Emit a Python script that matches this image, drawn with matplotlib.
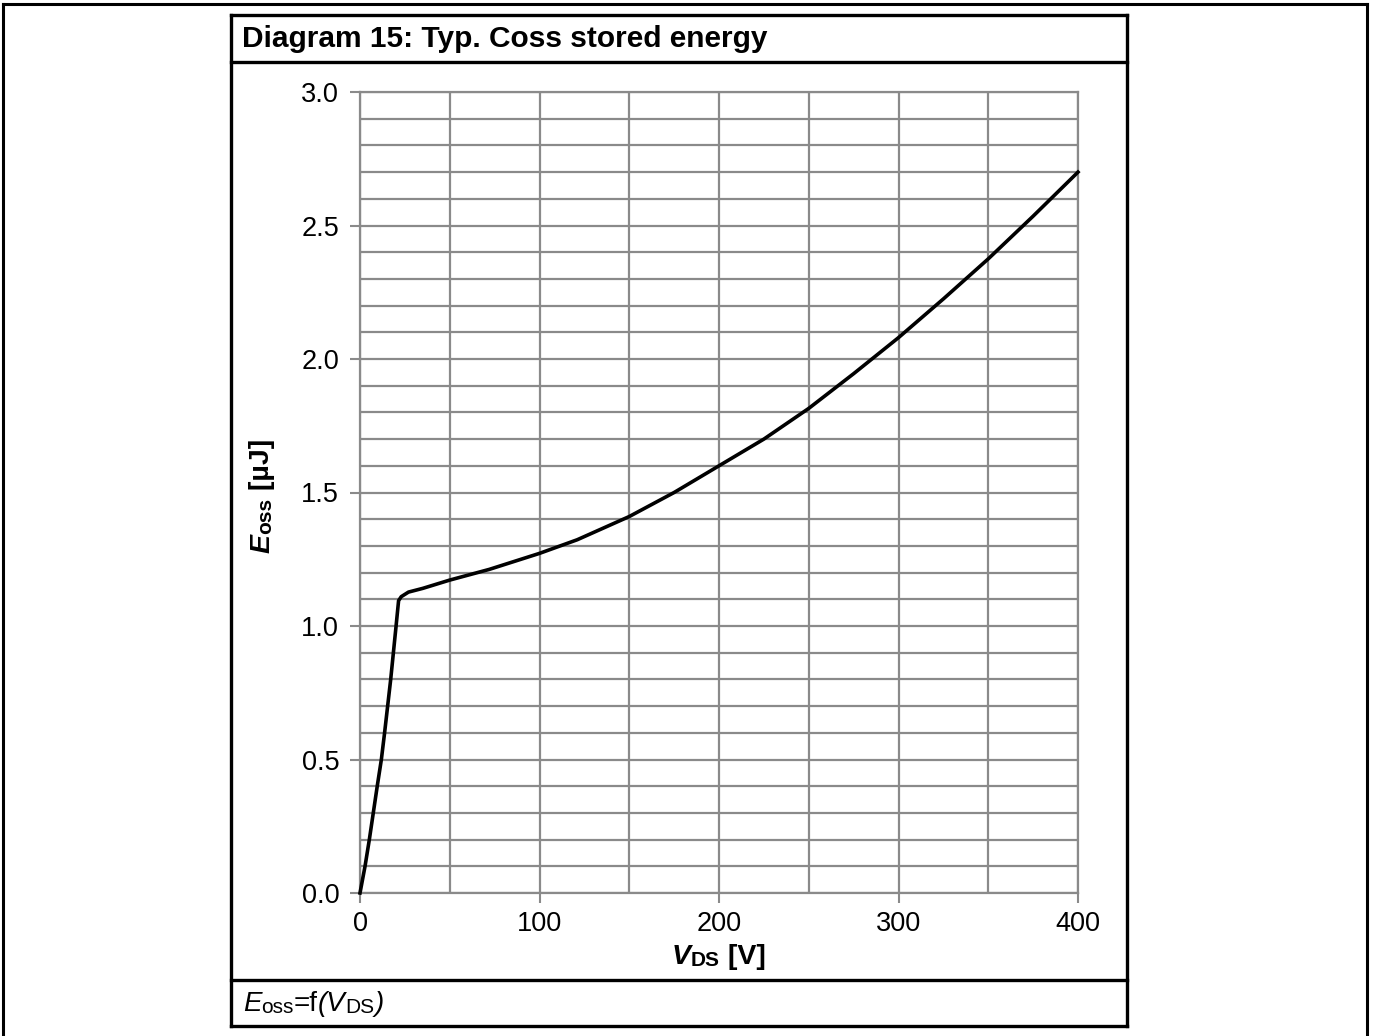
import matplotlib.pyplot as plt
import numpy as np

### Eoss curve ###
vds = [0, 2.8, 5.2, 7.4, 9.6, 11.9, 13.7, 15.4, 17.1, 18.6, 20.1, 21.5,
       23, 27, 35, 50, 72, 100, 121, 150, 175, 200, 225, 250, 275, 300,
       325, 350, 375, 400]
eoss = [0, 0.1, 0.2, 0.3, 0.4, 0.5, 0.6, 0.7, 0.8, 0.9, 1.0, 1.095,
        1.11, 1.127, 1.141, 1.172, 1.212, 1.272, 1.323, 1.41, 1.50, 1.60,
        1.70, 1.815, 1.945, 2.08, 2.225, 2.375, 2.535, 2.70]

x_ticks = [0, 100, 200, 300, 400]
y_ticks = [0.0, 0.5, 1.0, 1.5, 2.0, 2.5, 3.0]
title_text = "Diagram 15: Typ. Coss stored energy"

W, H = 1373, 1036
FONT = "Liberation Sans"
GRID = "#8a8a8a"
BIG = 20.5   # label size
SUB = 15     # subscript size

fig = plt.figure(figsize=(W / 100, H / 100), dpi=100)
plt.rcParams['font.family'] = [FONT, 'DejaVu Sans']

# helpers: pixel -> figure fraction
def fx(px):
    return px / W

def fy(py):
    return 1 - py / H

### frames around everything ###
def hline(y, x0, x1, lw=2.4):
    fig.add_artist(plt.Line2D([fx(x0), fx(x1)], [fy(y), fy(y)], color='black', lw=lw))

def vline(x, y0, y1, lw=2.4):
    fig.add_artist(plt.Line2D([fx(x), fx(x)], [fy(y0), fy(y1)], color='black', lw=lw))

# outer page border
hline(4, 3, 1367, lw=2.2)
vline(3, 4, 1036, lw=2.2)
vline(1367, 4, 1036, lw=2.2)
# diagram box
hline(15, 231, 1127)
hline(62, 231, 1127)
hline(980, 231, 1127)
hline(1026, 231, 1127)
vline(231, 15, 1026)
vline(1127, 15, 1026)

### plot area ###
ax = fig.add_axes([fx(360), fy(893), fx(1078) - fx(360), fy(92) - fy(893)])
ax.plot(vds, eoss, color='black', lw=2.6, clip_on=False, zorder=5,
        solid_joinstyle='round')
ax.set_xlim(0, 400)
ax.set_ylim(0, 3.0)
ax.set_xticks(x_ticks)
ax.set_yticks(y_ticks)
ax.set_xticks(np.arange(0, 401, 50), minor=True)
ax.set_yticks(np.arange(0, 3.01, 0.1), minor=True)
ax.set_xticklabels([str(v) for v in x_ticks])
ax.set_yticklabels(["%.1f" % v for v in y_ticks])
ax.grid(which='both', color=GRID, lw=1.6)
ax.set_axisbelow(True)
ax.tick_params(which='major', length=7, width=1.5, color=GRID,
               labelsize=19.5, pad=6)
ax.tick_params(axis='y', which='major', pad=8)
ax.tick_params(which='minor', length=0)
for sp in ax.spines.values():
    sp.set_color(GRID)
    sp.set_linewidth(1.6)

### texts ###
fig.text(fx(242), fy(39), title_text, fontsize=21.5, fontweight='bold',
         ha='left', va='center')

# x label: V_DS [V]
t1 = fig.text(fx(672), fy(970), "V", fontsize=BIG, fontweight='bold',
              fontstyle='italic', ha='left', va='bottom')
t2 = plt.annotate("DS", xy=(1, 0), xycoords=t1, fontsize=SUB,
                  fontweight='bold', ha='left', va='bottom',
                  annotation_clip=False)
plt.annotate(" [V]", xy=(1, 0), xycoords=t2, fontsize=BIG,
             fontweight='bold', ha='left', va='bottom', annotation_clip=False)

# y label: E_oss [uJ], rotated
r1 = fig.text(fx(275), fy(553), "E", fontsize=BIG, fontweight='bold',
              fontstyle='italic', rotation=90, ha='right', va='bottom')
r2 = plt.annotate("oss", xy=(1, 1), xycoords=r1, fontsize=SUB,
                  fontweight='bold', rotation=90, ha='right', va='bottom',
                  annotation_clip=False)
plt.annotate(" [µJ]", xy=(1, 1), xycoords=r2, fontsize=BIG,
             fontweight='bold', rotation=90, ha='right', va='bottom',
             annotation_clip=False)

# footer: Eoss=f(VDS)
f1 = fig.text(fx(243), fy(1017), "E", fontsize=20, fontstyle='italic',
              ha='left', va='bottom')
f2 = plt.annotate("oss", xy=(1, 0), xycoords=f1, fontsize=SUB,
                  ha='left', va='bottom', annotation_clip=False)
f3 = plt.annotate("=f", xy=(1, 0), xycoords=f2, fontsize=20,
                  ha='left', va='bottom', annotation_clip=False)
f4 = plt.annotate("(V", xy=(1, 0), xycoords=f3, fontsize=20,
                  fontstyle='italic', ha='left', va='bottom',
                  annotation_clip=False)
f5 = plt.annotate("DS", xy=(1, 0), xycoords=f4, fontsize=SUB,
                  ha='left', va='bottom', annotation_clip=False)
plt.annotate(")", xy=(1, 0), xycoords=f5, fontsize=20, fontstyle='italic',
             ha='left', va='bottom', annotation_clip=False)

fig.savefig('out.png', dpi=100)
